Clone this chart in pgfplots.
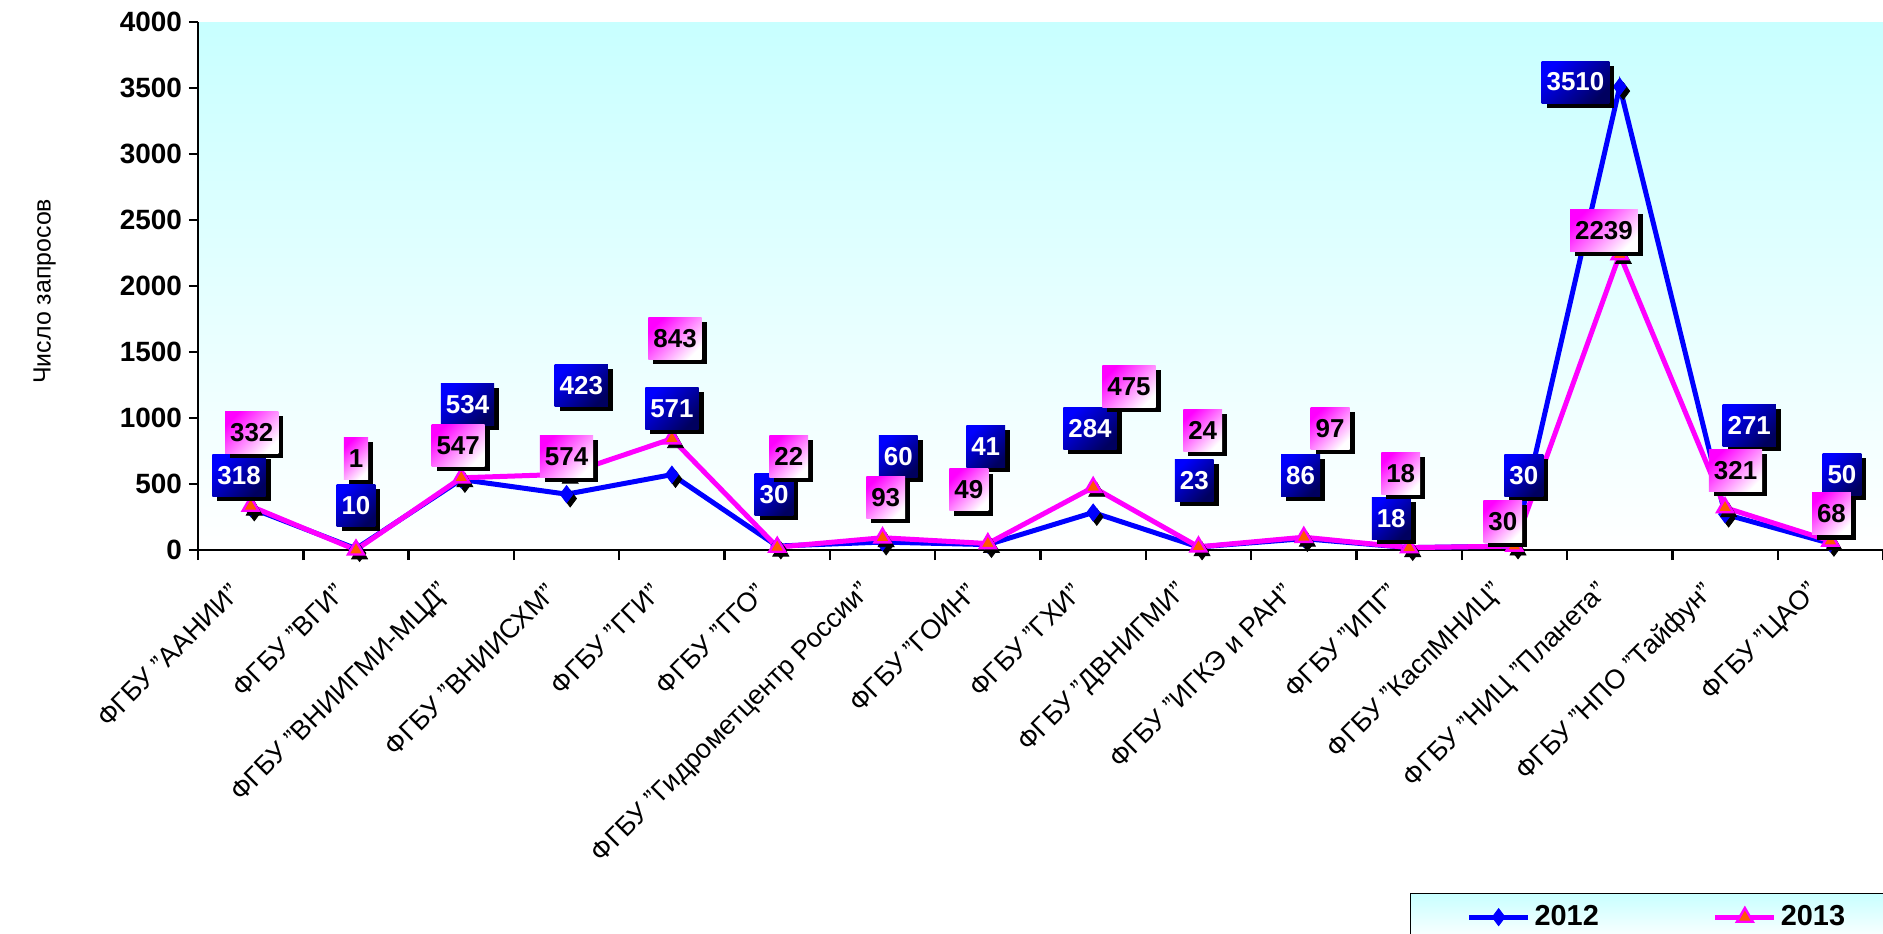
\documentclass[border=0pt]{standalone}
\usepackage{fontspec}
\setmainfont{Liberation Sans}
\usepackage{pgfplots}
\pgfplotsset{compat=1.18}
\usepackage{pgfplotstable}
\usetikzlibrary{shadows}

\definecolor{bgcyan}{RGB}{200,255,255}
\definecolor{serA}{RGB}{0,0,255}
\definecolor{serB}{RGB}{255,0,255}
\definecolor{triFill}{RGB}{255,90,0}
\definecolor{navy}{RGB}{0,0,95}

\pgfplotstableread{
x y
0 318
1 10
2 534
3 423
4 571
5 30
6 60
7 41
8 284
9 23
10 86
11 18
12 30
13 3510
14 271
15 50
}\dataA

\pgfplotstableread{
x y
0 332
1 1
2 547
3 574
4 843
5 22
6 93
7 49
8 475
9 24
10 97
11 18
12 30
13 2239
14 321
15 68
}\dataB

\pgfplotstableread{
lx ly v
-0.11 564 318
1.00 336 10
2.06 1100 534
3.14 1245 423
4.00 1073 571
4.97 418 30
6.15 709 60
6.98 782 41
7.97 918 284
8.96 527 23
9.97 564 86
10.83 236 18
12.09 564 30
12.58 3545 3510
14.23 945 271
15.11 573 50
}\labA

\pgfplotstableread{
lx ly v
0.01 891 332
1.00 691 1
1.97 791 547
3.00 709 574
4.03 1600 843
5.11 709 22
6.03 400 93
6.82 455 49
8.34 1236 475
9.04 909 24
10.25 918 97
10.92 582 18
11.89 218 30
12.85 2418 2239
14.10 600 321
15.01 273 68
}\labB

\begin{document}
\begin{tikzpicture}
\begin{axis}[
  at={(99bp,-275bp)}, anchor=south west,
  scale only axis,
  width=842.5bp, height=264bp,
  xmin=-0.5, xmax=15.5,
  ymin=0, ymax=4000,
  clip=false,
  axis x line*=bottom, axis y line*=left,
  axis line style={black, line width=1.4bp},
  axis background/.style={shade, top color=bgcyan, bottom color=white},
  tick align=outside,
  ytick={0,500,...,4000},
  major tick length=4.5bp,
  minor tick length=5bp,
  xtick={0,...,15},
  major x tick style={draw=none},
  minor xtick={-0.5,0.5,...,15.5},
  minor x tick style={black, line width=1.2bp},
  y tick style={black, line width=1.2bp},
  xticklabels={ФГБУ "ААНИИ",ФГБУ "ВГИ",ФГБУ "ВНИИГМИ-МЦД",ФГБУ "ВНИИСХМ",ФГБУ "ГГИ",ФГБУ "ГГО",ФГБУ "Гидрометцентр России",ФГБУ "ГОИН",ФГБУ "ГХИ",ФГБУ "ДВНИГМИ",ФГБУ "ИГКЭ и РАН",ФГБУ "ИПГ",ФГБУ "КаспМНИЦ",ФГБУ "НИЦ "Планета",ФГБУ "НПО "Тайфун",ФГБУ "ЦАО"},
  xticklabel style={xshift=-7bp, yshift=-14bp, rotate=45, anchor=east, font=\fontsize{13.5}{13.5}\selectfont, inner sep=1bp},
  yticklabel style={font=\fontsize{14}{14}\selectfont\bfseries},
  /pgf/number format/assume math mode=true,
  scaled y ticks=false,
  yticklabel={\pgfmathprintnumber[fixed,set thousands separator={}]{\tick}},
  ylabel={Число запросов},
  every axis y label/.style={at={(axis description cs:-0.091,0.49)}, rotate=90, anchor=center, font=\fontsize{12.5}{12.5}\selectfont},
  legend columns=2,
  legend image code/.code={\draw[mark repeat=2,mark phase=2,#1] plot coordinates {(0bp,0bp) (14.75bp,0bp) (29.5bp,0bp)};},
  legend style={at={(axis description cs:0.7193,-0.6496)}, anchor=north west,
    draw=black, line width=0.6bp, top color=bgcyan, bottom color=white,
    font=\fontsize{14.5}{14.5}\selectfont\bfseries,
    inner xsep=28bp, inner ysep=4bp,
    /tikz/every even column/.append style={column sep=55bp}},
]
% shadows of markers
\addplot[forget plot, draw=none, mark=diamond*, mark size=4.2bp, mark options={fill=black, draw=black}, shift={(1.8bp,-2.2bp)}] table[x=x,y=y] {\dataA};
\addplot[serA, line width=2.5bp, mark=diamond*, mark size=4.2bp, mark options={fill=serA, draw=serA, line width=0.5bp}] table[x=x,y=y] {\dataA};
\addlegendentry{2012}
\addplot[forget plot, draw=none, mark=triangle*, mark size=4.6bp, mark options={fill=black, draw=black}, shift={(1.8bp,-2.2bp)}] table[x=x,y=y] {\dataB};
\addplot[serB, line width=2.5bp, mark=triangle*, mark size=4.6bp, mark options={fill=triFill, draw=serB, line width=1.2bp}] table[x=x,y=y] {\dataB};
\addlegendentry{2013}
% data labels 2012
\addplot[forget plot, draw=none, mark=none, nodes near coords, point meta=explicit symbolic,
  nodes near coords align={center},
  every node near coord/.append style={anchor=center, font=\fontsize{13}{13}\selectfont\bfseries, text=white,
    left color=serA, right color=navy, shading angle=45,
    inner xsep=2.5bp, inner ysep=0bp, minimum height=21bp,
    drop shadow={shadow xshift=2.5bp, shadow yshift=-2.3bp, fill=black, opacity=1}}]
  table[x=lx,y=ly,meta=v] {\labA};
% data labels 2013
\addplot[forget plot, draw=none, mark=none, nodes near coords, point meta=explicit symbolic,
  nodes near coords align={center},
  every node near coord/.append style={anchor=center, font=\fontsize{13}{13}\selectfont\bfseries, text=black,
    left color=serB, right color=white, shading angle=45,
    inner xsep=2.5bp, inner ysep=0bp, minimum height=21bp,
    drop shadow={shadow xshift=2.5bp, shadow yshift=-2.3bp, fill=black, opacity=1}}]
  table[x=lx,y=ly,meta=v] {\labB};
\end{axis}
\pgfresetboundingbox
\useasboundingbox (0,0) rectangle (941.5bp,-467bp);
\end{tikzpicture}
\end{document}
